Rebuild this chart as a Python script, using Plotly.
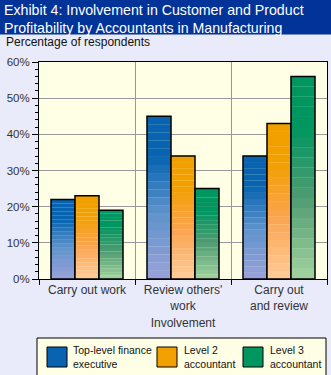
import plotly.graph_objects as go

categories = ["Carry out work", "Review others'<br>work", "Carry out<br>and review"]
series_names = ["Top-level finance<br>executive", "Level 2<br>accountant", "Level 3<br>accountant"]
top_level = [22, 45, 34]
level2 = [23, 34, 43]
level3 = [19, 25, 56]
values = [top_level, level2, level3]
y_ticks = [0, 10, 20, 30, 40, 50, 60]
y_tick_labels = ["0%", "10%", "20%", "30%", "40%", "50%", "60%"]

top_colors = ["#0864b0", "#f2a000", "#00965f"]
mid_colors = ["#5f93cb", "#fba450", "#4f9c72"]
bot_colors = ["#9aa2da", "#ffcc99", "#a2d4a0"]

W, H = 331, 375
L, R, T, B = 39, 4, 62, 96
PW, PH = W - L - R, H - T - B


def px(x):
    return (x - L) / PW


def py(y):
    return (H - B - y) / PH


def hex2rgb(h):
    h = h.lstrip("#")
    return [int(h[i:i + 2], 16) for i in (0, 2, 4)]


def mix(c1, c2, t):
    a, b = hex2rgb(c1), hex2rgb(c2)
    return "rgb(%d,%d,%d)" % tuple(round(a[i] + (b[i] - a[i]) * t) for i in range(3))


def grad(i, f):
    # f: 0 at bottom, 1 at top
    if f >= 0.75:
        return mix(top_colors[i], top_colors[i], 0)
    if f >= 0.4:
        return mix(mid_colors[i], top_colors[i], (f - 0.4) / 0.35)
    return mix(bot_colors[i], mid_colors[i], f / 0.4)


fig = go.Figure()
N = 20
for i, vals in enumerate(values):
    for k in range(N):
        fig.add_trace(go.Bar(
            x=categories,
            y=[v / N * 1.02 for v in vals],
            base=[v * k / N for v in vals],
            offsetgroup=str(i),
            marker=dict(color=grad(i, (k + 0.5) / N), line=dict(width=0)),
            showlegend=False, hoverinfo="skip",
        ))
    fig.add_trace(go.Bar(
        x=categories, y=vals, offsetgroup=str(i),
        marker=dict(color="rgba(0,0,0,0)", line=dict(color="black", width=1.5)),
        showlegend=False, name=series_names[i].replace("<br>", " "),
    ))

shapes = [
    dict(type="rect", xref="paper", yref="paper", x0=px(-5), x1=px(340),
         y0=py(34.5), y1=py(-5), fillcolor="#023399", line=dict(width=0), layer="above"),
    dict(type="rect", xref="paper", yref="paper", x0=px(37), x1=px(326),
         y0=py(380), y1=py(338), fillcolor="#ffffe6", line=dict(color="black", width=1)),
]
annotations = [
    dict(text="Exhibit 4: Involvement in Customer and Product<br>Profitability by Accountants in Manufacturing",
         xref="paper", yref="paper",
         x=px(2), y=py(18.6), xanchor="left", yanchor="middle", align="left", showarrow=False,
         font=dict(family="Liberation Sans, Arial", size=14.2, color="white")),
    dict(text="Percentage of respondents", xref="paper", yref="paper",
         x=px(4), y=py(42), xanchor="left", yanchor="middle", showarrow=False,
         font=dict(family="Liberation Sans, Arial", size=12, color="#111")),
]
sw_x = [47, 157, 243]
tx_x = [71, 182, 268]
for i in range(3):
    shapes.append(dict(type="rect", xref="paper", yref="paper", x0=px(sw_x[i]), x1=px(sw_x[i] + 20),
                       y0=py(367), y1=py(347), fillcolor=top_colors[i],
                       line=dict(color="black", width=1)))
    annotations.append(dict(text=series_names[i], xref="paper", yref="paper",
                            x=px(tx_x[i]), y=py(357), xanchor="left", yanchor="middle",
                            align="left", showarrow=False,
                            font=dict(family="Liberation Sans, Arial", size=10.5, color="#111")))

fig.update_layout(
    width=W, height=H,
    margin=dict(l=L, r=R, t=T, b=B, pad=0),
    barmode="group", bargap=0.25, bargroupgap=0,
    paper_bgcolor="#e9ebfa", plot_bgcolor="#ffffe6",
    font=dict(family="Liberation Sans, Arial", size=12, color="#333"),
    shapes=shapes, annotations=annotations,
    showlegend=False,
    xaxis=dict(
        showline=True, linecolor="black", linewidth=1, mirror=True,
        tickson="boundaries", ticks="outside", ticklen=5, tickcolor="black",
        showgrid=True, gridcolor="#a090b0", gridwidth=1,
        tickfont=dict(size=12, color="#333"),
        title=dict(text="Involvement", font=dict(size=12, color="#333"), standoff=6),
    ),
    yaxis=dict(
        range=[0, 60], tickmode="array", tickvals=y_ticks, ticktext=y_tick_labels,
        showline=True, linecolor="black", linewidth=1, mirror=True,
        ticks="outside", ticklen=6, tickcolor="black",
        showgrid=True, gridcolor="#999999", gridwidth=1, zeroline=False,
        minor=dict(dtick=2, ticks="outside", ticklen=3, tickcolor="black", showgrid=False),
        tickfont=dict(size=11.5, color="#333"),
    ),
)

fig.write_html("out.html")
